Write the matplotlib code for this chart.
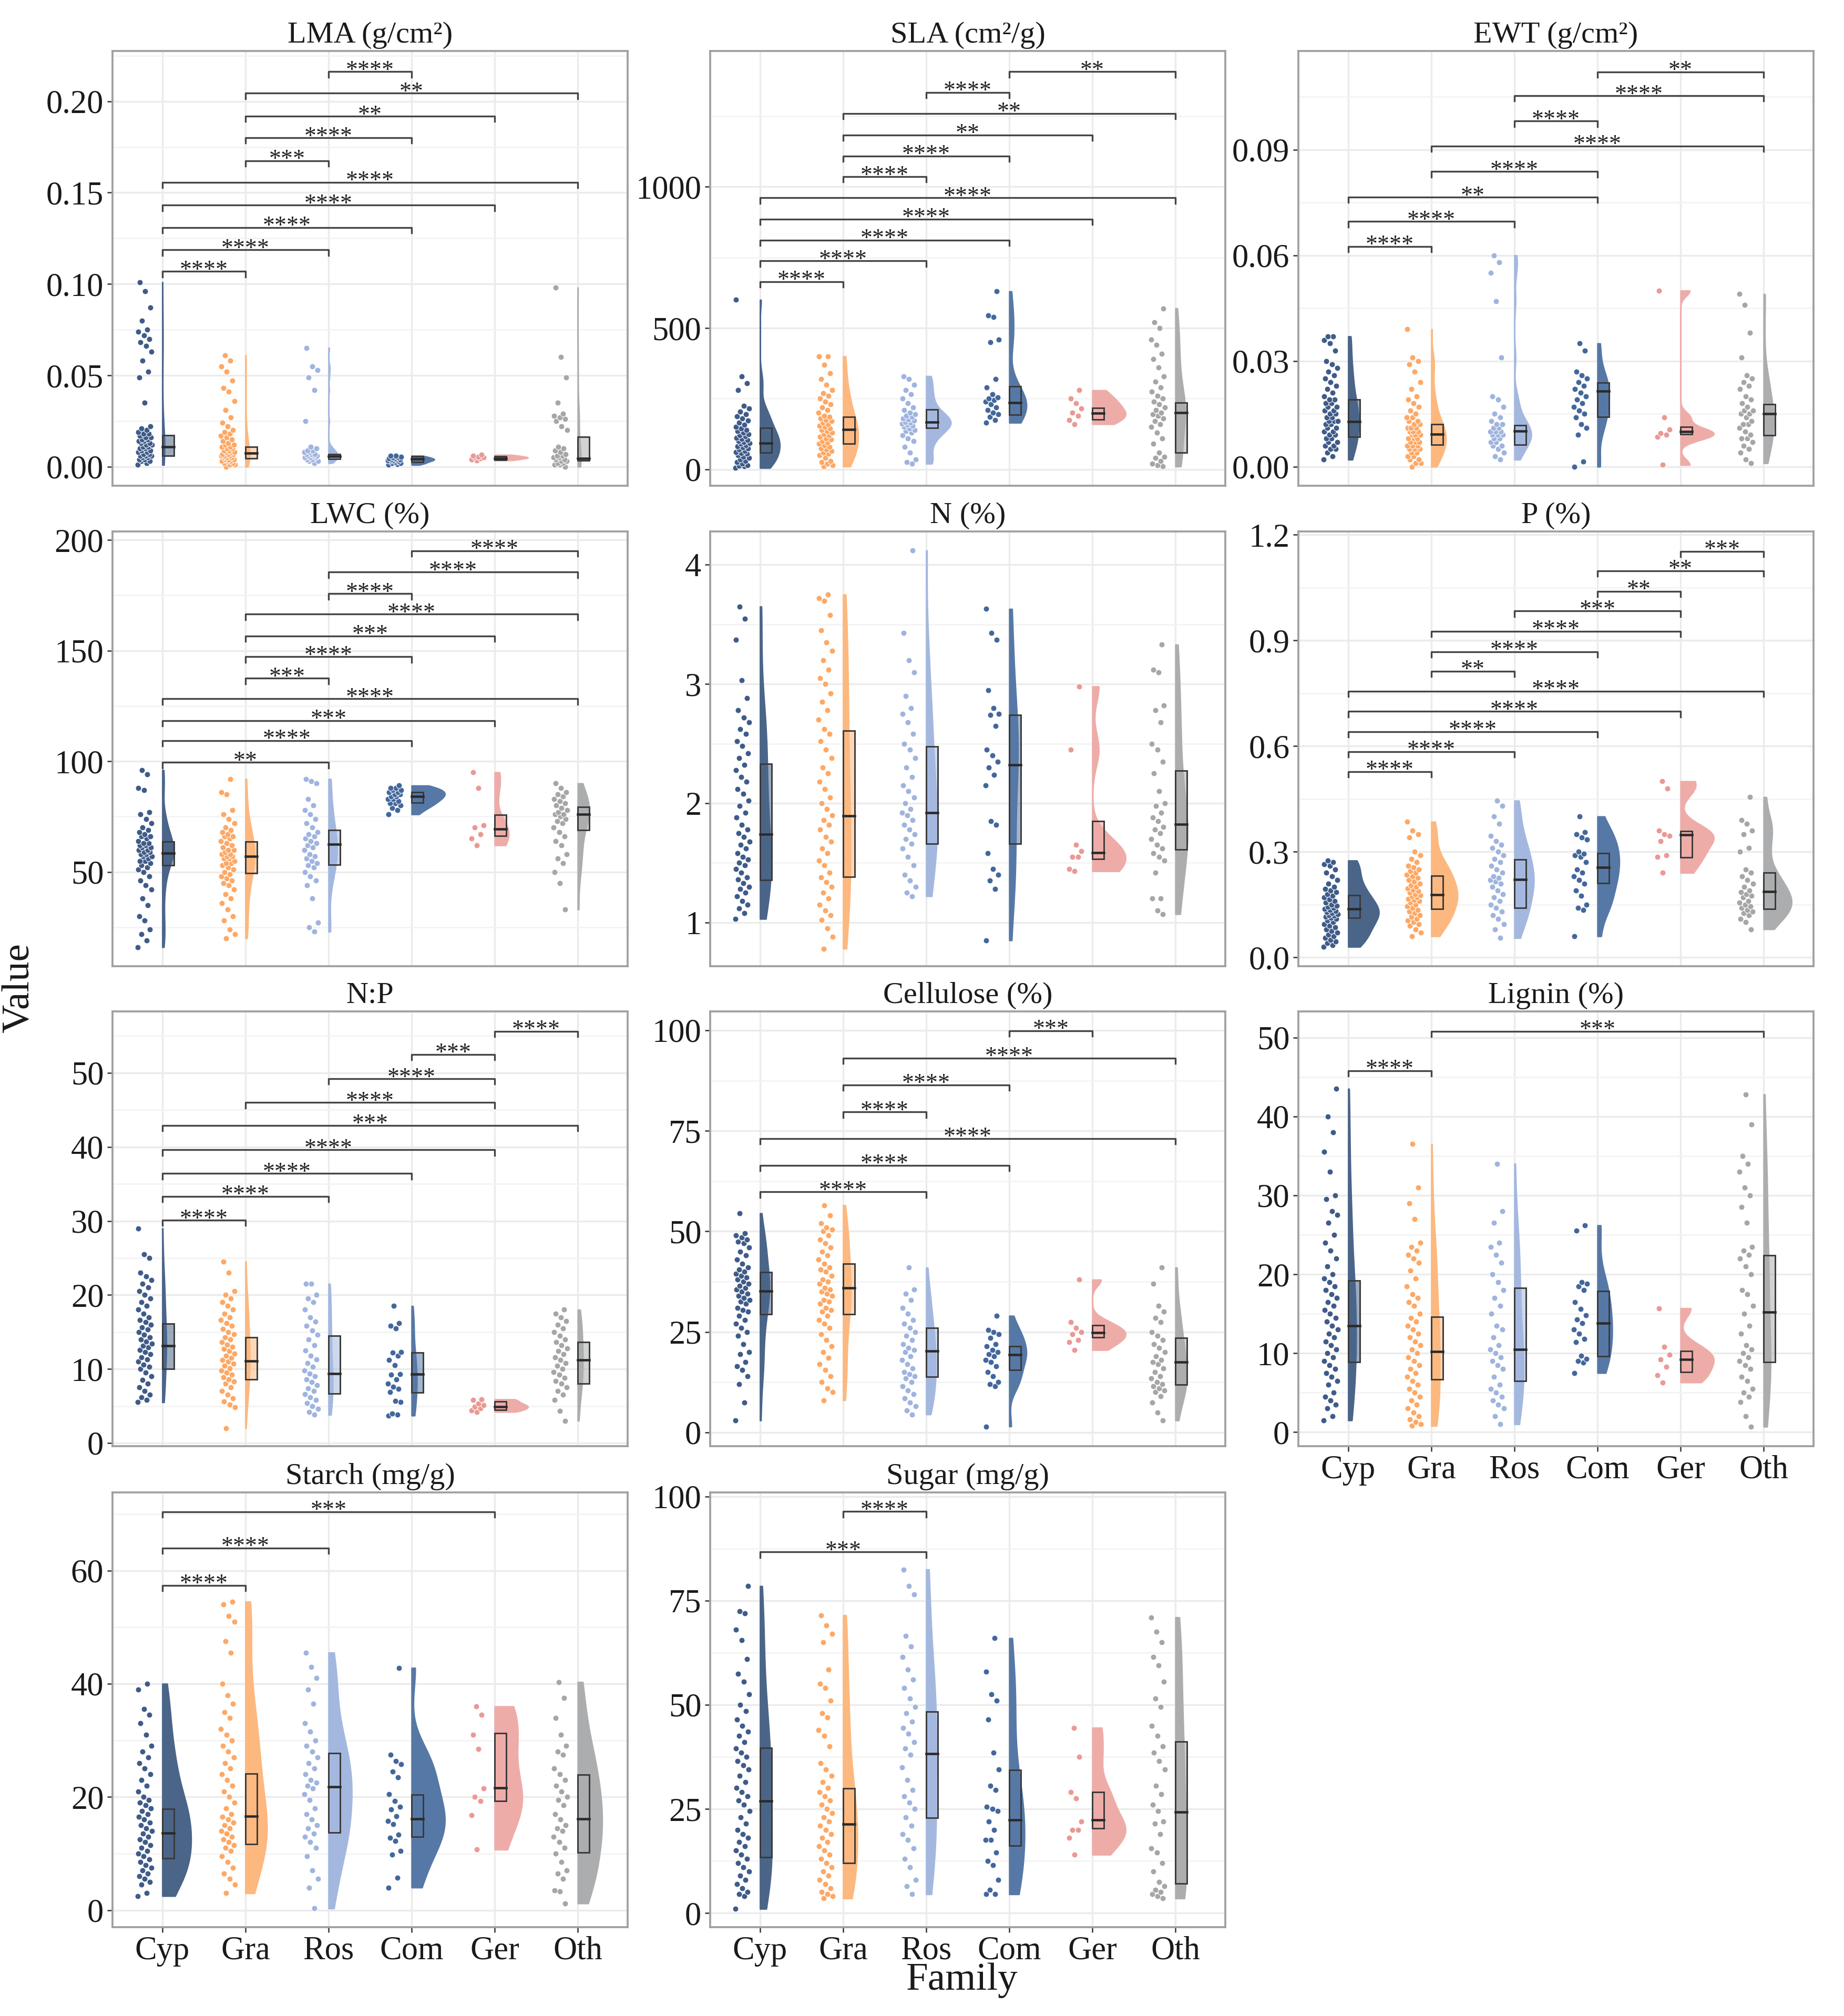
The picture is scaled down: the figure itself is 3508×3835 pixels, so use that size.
import matplotlib.pyplot as plt
import numpy as np
from matplotlib.patches import Rectangle
from matplotlib.ticker import AutoMinorLocator, FormatStrFormatter, FixedLocator

plt.rcParams['font.family'] = ['Liberation Serif', 'DejaVu Serif']

families = ['Cyp', 'Gra', 'Ros', 'Com', 'Ger', 'Oth']
point_colors = ['#3f5b88', '#fda865', '#9fb4de', '#43679c', '#ea9994', '#a6a6a6']
violin_colors = ['#4b6589', '#fdb87f', '#a4b8df', '#5678a6', '#eeaca8', '#acadaf']

# ---- LMA (g/cm2) ----
lma_vals = [
    [0.001, 0.002, 0.003, 0.003, 0.004, 0.004, 0.005, 0.005, 0.006, 0.006, 0.006, 0.007, 0.007, 0.008,
     0.008, 0.009, 0.009, 0.010, 0.010, 0.011, 0.011, 0.012, 0.012, 0.013, 0.013, 0.014, 0.014, 0.015,
     0.015, 0.016, 0.016, 0.017, 0.018, 0.018, 0.019, 0.020, 0.021, 0.022, 0.035, 0.049, 0.052, 0.058,
     0.063, 0.066, 0.068, 0.070, 0.072, 0.074, 0.075, 0.080, 0.087, 0.096, 0.101],
    [0.000, 0.001, 0.001, 0.002, 0.002, 0.003, 0.003, 0.003, 0.004, 0.004, 0.004, 0.005, 0.005, 0.005,
     0.006, 0.006, 0.006, 0.007, 0.007, 0.007, 0.008, 0.008, 0.008, 0.009, 0.009, 0.010, 0.010, 0.011,
     0.011, 0.012, 0.012, 0.013, 0.014, 0.015, 0.016, 0.017, 0.018, 0.019, 0.020, 0.022, 0.024, 0.027,
     0.031, 0.036, 0.041, 0.043, 0.047, 0.052, 0.055, 0.058, 0.061],
    [0.002, 0.003, 0.003, 0.004, 0.004, 0.005, 0.005, 0.005, 0.006, 0.006, 0.006, 0.007, 0.007, 0.007,
     0.008, 0.008, 0.009, 0.009, 0.010, 0.011, 0.025, 0.042, 0.049, 0.053, 0.055, 0.065],
    [0.001, 0.0015, 0.002, 0.002, 0.0025, 0.003, 0.003, 0.0035, 0.0035, 0.004, 0.004, 0.004, 0.0045,
     0.0045, 0.005, 0.005, 0.0055, 0.006, 0.006],
    [0.0035, 0.004, 0.0045, 0.005, 0.005, 0.0055, 0.006, 0.0065],
    [0.000, 0.001, 0.001, 0.002, 0.002, 0.003, 0.003, 0.004, 0.004, 0.005, 0.005, 0.006, 0.006, 0.007,
     0.008, 0.009, 0.010, 0.011, 0.020, 0.022, 0.025, 0.026, 0.027, 0.028, 0.029, 0.035, 0.049, 0.060, 0.098],
]
lma_box = [(0.0061, 0.0108, 0.0172), (0.0047, 0.0075, 0.0108), (0.0042, 0.0058, 0.0068),
           (0.0026, 0.0042, 0.0056), (0.0038, 0.0045, 0.0056), (0.0035, 0.0047, 0.0164)]
lma_sig = [(1, 2, '****', 0.1069), (1, 3, '****', 0.1187), (1, 4, '****', 0.1309), (1, 5, '****', 0.1431),
           (1, 6, '****', 0.1556), (2, 3, '***', 0.1674), (2, 4, '****', 0.1800), (2, 5, '**', 0.1918),
           (2, 6, '**', 0.2044), (3, 4, '****', 0.2162)]

# ---- SLA (cm2/g) ----
sla_vals = [
    [5, 10, 12, 15, 20, 25, 30, 35, 40, 45, 50, 55, 58, 62, 65, 70, 74, 78, 82, 86, 90, 93, 96, 100, 104,
     108, 112, 116, 120, 125, 130, 135, 140, 145, 150, 158, 165, 172, 180, 188, 195, 205, 215, 225, 280,
     305, 330, 600],
    [10, 15, 20, 25, 30, 40, 50, 55, 60, 65, 70, 75, 80, 85, 90, 95, 100, 105, 110, 115, 120, 125, 130, 135,
     140, 145, 150, 155, 160, 165, 170, 175, 180, 185, 190, 200, 210, 220, 230, 240, 250, 260, 270, 280,
     300, 320, 340, 370, 400, 400],
    [20, 25, 35, 60, 80, 100, 110, 120, 130, 135, 140, 145, 150, 155, 158, 162, 165, 168, 172, 176, 180, 185,
     190, 195, 200, 210, 220, 235, 250, 265, 280, 300, 320, 330],
    [165, 175, 185, 195, 200, 210, 220, 230, 240, 245, 250, 255, 265, 290, 320, 450, 460, 540, 545, 630],
    [160, 175, 190, 200, 215, 235, 250, 280],
    [10, 15, 20, 30, 40, 45, 60, 90, 110, 130, 150, 160, 170, 180, 190, 195, 200, 210, 220, 230, 240, 250,
     260, 275, 290, 310, 330, 360, 390, 410, 440, 460, 500, 520, 570],
]
sla_box = [(60, 93, 146), (90, 141, 186), (146, 168, 212), (194, 236, 293), (177, 199, 217), (59, 200, 236)]
sla_sig = [(1, 2, '****', 664), (1, 3, '****', 738), (1, 4, '****', 811), (1, 5, '****', 886),
           (1, 6, '****', 961), (2, 3, '****', 1036), (2, 4, '****', 1109), (2, 5, '**', 1184),
           (2, 6, '**', 1260), (3, 4, '****', 1334), (4, 6, '**', 1408)]

# ---- EWT (g/cm2) ----
ewt_vals = [
    [0.002, 0.003, 0.004, 0.005, 0.005, 0.006, 0.006, 0.007, 0.007, 0.008, 0.008, 0.009, 0.009, 0.010,
     0.010, 0.011, 0.011, 0.012, 0.012, 0.013, 0.013, 0.013, 0.014, 0.014, 0.015, 0.015, 0.016, 0.016,
     0.017, 0.017, 0.018, 0.018, 0.019, 0.019, 0.020, 0.021, 0.022, 0.023, 0.024, 0.025, 0.026, 0.027,
     0.028, 0.029, 0.030, 0.033, 0.035, 0.036, 0.037, 0.037],
    [0.000, 0.001, 0.001, 0.002, 0.002, 0.003, 0.003, 0.004, 0.004, 0.005, 0.005, 0.005, 0.006, 0.006,
     0.006, 0.007, 0.007, 0.007, 0.008, 0.008, 0.008, 0.009, 0.009, 0.009, 0.010, 0.010, 0.010, 0.011,
     0.011, 0.011, 0.012, 0.012, 0.013, 0.013, 0.014, 0.014, 0.015, 0.016, 0.017, 0.018, 0.019, 0.020,
     0.022, 0.024, 0.027, 0.029, 0.030, 0.031, 0.039],
    [0.002, 0.003, 0.004, 0.005, 0.006, 0.006, 0.007, 0.007, 0.008, 0.008, 0.009, 0.009, 0.009, 0.010,
     0.010, 0.010, 0.011, 0.011, 0.012, 0.012, 0.013, 0.014, 0.015, 0.017, 0.019, 0.020, 0.031, 0.047,
     0.055, 0.058, 0.060],
    [0.000, 0.0015, 0.009, 0.011, 0.012, 0.014, 0.015, 0.016, 0.017, 0.018, 0.019, 0.020, 0.021, 0.022,
     0.023, 0.024, 0.025, 0.026, 0.027, 0.033, 0.035],
    [0.0005, 0.0085, 0.009, 0.0095, 0.0105, 0.014, 0.050],
    [0.001, 0.002, 0.004, 0.005, 0.006, 0.007, 0.008, 0.008, 0.009, 0.010, 0.011, 0.012, 0.012, 0.013,
     0.014, 0.015, 0.015, 0.016, 0.016, 0.017, 0.018, 0.019, 0.020, 0.022, 0.023, 0.024, 0.025, 0.026,
     0.031, 0.038, 0.046, 0.049],
]
ewt_box = [(0.0085, 0.0128, 0.0191), (0.0062, 0.0092, 0.0121), (0.0062, 0.0101, 0.0118),
           (0.0142, 0.0214, 0.0239), (0.0092, 0.0099, 0.0113), (0.0089, 0.0151, 0.0178)]
ewt_sig = [(1, 2, '****', 0.0625), (1, 3, '****', 0.0696), (1, 4, '**', 0.0765), (2, 4, '****', 0.0838),
           (2, 6, '****', 0.0910), (3, 4, '****', 0.0981), (3, 6, '****', 0.1053), (4, 6, '**', 0.1121)]

# ---- LWC (%) ----
lwc_vals = [
    [16, 19, 22, 24, 28, 30, 35, 38, 42, 44, 46, 48, 50, 51, 52, 53, 54, 55, 55, 56, 57, 57, 58, 58, 59, 59,
     60, 60, 61, 61, 62, 62, 63, 63, 64, 65, 66, 66, 67, 68, 69, 70, 72, 74, 76, 77, 87, 88, 94, 96],
    [20, 22, 24, 28, 30, 33, 36, 38, 40, 42, 44, 45, 46, 47, 48, 49, 50, 51, 52, 53, 54, 54, 55, 56, 56, 57,
     57, 58, 58, 59, 60, 60, 61, 62, 63, 64, 65, 66, 66, 67, 68, 69, 70, 72, 74, 76, 78, 85, 86, 92],
    [23, 25, 27, 38, 44, 46, 48, 50, 52, 53, 54, 55, 56, 57, 58, 60, 61, 62, 63, 64, 65, 66, 67, 68, 70, 72,
     74, 76, 78, 80, 83, 90, 91, 92],
    [76, 78, 79, 80, 81, 81, 82, 83, 83, 84, 84, 85, 85, 86, 86, 87, 87, 88, 88, 89],
    [62, 65, 67, 70, 71, 88, 95],
    [33, 45, 50, 54, 56, 58, 62, 64, 66, 68, 70, 72, 73, 74, 75, 76, 76, 77, 78, 79, 80, 81, 82, 83, 84, 85,
     86, 88, 90],
]
lwc_box = [(53.1, 58.5, 63.6), (49.5, 57.0, 63.8), (53.3, 62.6, 68.8), (81.2, 84.0, 86.1),
           (66.3, 69.4, 75.8), (69.0, 76.1, 79.3)]
lwc_sig = [(1, 3, '**', 99.5), (1, 4, '****', 109.3), (1, 5, '***', 118.4), (1, 6, '****', 128.2),
           (2, 3, '***', 137.5), (2, 4, '****', 147.2), (2, 5, '***', 156.6), (2, 6, '****', 166.4),
           (3, 4, '****', 175.7), (3, 6, '****', 185.4), (4, 6, '****', 195.0)]

# ---- N (%) ----
n_vals = [
    [1.03, 1.08, 1.12, 1.15, 1.18, 1.22, 1.25, 1.28, 1.30, 1.33, 1.36, 1.38, 1.42, 1.45, 1.48, 1.50, 1.53,
     1.55, 1.58, 1.62, 1.65, 1.68, 1.72, 1.75, 1.78, 1.82, 1.88, 1.92, 1.98, 2.02, 2.08, 2.12, 2.18, 2.22,
     2.28, 2.32, 2.38, 2.42, 2.48, 2.52, 2.58, 2.62, 2.68, 2.72, 2.78, 2.88, 3.03, 3.37, 3.55, 3.65],
    [0.78, 0.88, 0.95, 1.02, 1.06, 1.10, 1.15, 1.20, 1.25, 1.30, 1.34, 1.38, 1.42, 1.48, 1.52, 1.58, 1.62,
     1.68, 1.72, 1.78, 1.82, 1.86, 1.90, 1.95, 2.00, 2.05, 2.12, 2.18, 2.25, 2.30, 2.38, 2.45, 2.52, 2.58,
     2.62, 2.70, 2.78, 2.85, 2.92, 3.00, 3.05, 3.12, 3.20, 3.28, 3.35, 3.45, 3.58, 3.70, 3.72, 3.75],
    [1.22, 1.25, 1.30, 1.35, 1.40, 1.48, 1.55, 1.62, 1.66, 1.70, 1.74, 1.78, 1.82, 1.86, 1.90, 1.92, 1.95,
     2.00, 2.05, 2.10, 2.15, 2.22, 2.30, 2.38, 2.45, 2.50, 2.58, 2.68, 2.75, 2.80, 2.90, 3.10, 3.20, 3.43, 4.12],
    [0.85, 1.28, 1.35, 1.40, 1.45, 1.58, 1.82, 1.85, 2.15, 2.24, 2.30, 2.35, 2.40, 2.45, 2.65, 2.74, 2.75,
     2.80, 2.95, 3.37, 3.43, 3.63],
    [1.43, 1.45, 1.55, 1.55, 1.60, 1.65, 2.45, 2.98],
    [1.07, 1.10, 1.20, 1.20, 1.42, 1.52, 1.55, 1.58, 1.62, 1.65, 1.70, 1.75, 1.78, 1.80, 1.85, 1.88, 1.92,
     1.98, 2.00, 2.10, 2.25, 2.35, 2.45, 2.50, 2.68, 2.78, 2.82, 3.10, 3.12, 3.33],
]
n_box = [(1.357, 1.742, 2.33), (1.382, 1.896, 2.61), (1.661, 1.919, 2.476), (1.661, 2.322, 2.742),
         (1.534, 1.585, 1.848), (1.61, 1.823, 2.273)]
n_sig = []

# ---- P (%) ----
p_vals = [
    [0.030, 0.035, 0.040, 0.045, 0.050, 0.055, 0.060, 0.065, 0.070, 0.075, 0.080, 0.085, 0.090, 0.095,
     0.100, 0.105, 0.110, 0.112, 0.115, 0.118, 0.120, 0.123, 0.126, 0.129, 0.132, 0.135, 0.138, 0.141,
     0.144, 0.147, 0.150, 0.155, 0.160, 0.165, 0.170, 0.175, 0.180, 0.185, 0.190, 0.195, 0.200, 0.210,
     0.220, 0.230, 0.240, 0.250, 0.260, 0.265, 0.270, 0.275],
    [0.060, 0.070, 0.080, 0.090, 0.095, 0.100, 0.105, 0.110, 0.115, 0.120, 0.125, 0.130, 0.135, 0.140,
     0.145, 0.150, 0.155, 0.160, 0.163, 0.166, 0.170, 0.173, 0.176, 0.180, 0.184, 0.188, 0.192, 0.196,
     0.200, 0.205, 0.210, 0.215, 0.220, 0.225, 0.230, 0.235, 0.240, 0.245, 0.250, 0.255, 0.260, 0.270,
     0.280, 0.290, 0.300, 0.340, 0.350, 0.360, 0.385],
    [0.055, 0.080, 0.095, 0.110, 0.120, 0.130, 0.140, 0.150, 0.160, 0.170, 0.180, 0.190, 0.200, 0.210,
     0.215, 0.220, 0.225, 0.230, 0.240, 0.250, 0.260, 0.270, 0.280, 0.290, 0.300, 0.310, 0.320, 0.330,
     0.345, 0.380, 0.400, 0.430, 0.445],
    [0.060, 0.135, 0.140, 0.150, 0.175, 0.190, 0.210, 0.220, 0.230, 0.240, 0.250, 0.270, 0.285, 0.290,
     0.295, 0.300, 0.335, 0.340, 0.350, 0.355, 0.400],
    [0.240, 0.285, 0.290, 0.330, 0.345, 0.350, 0.360, 0.480, 0.500],
    [0.080, 0.100, 0.110, 0.120, 0.125, 0.130, 0.135, 0.140, 0.145, 0.150, 0.155, 0.160, 0.170, 0.175,
     0.180, 0.185, 0.190, 0.200, 0.210, 0.220, 0.230, 0.240, 0.250, 0.300, 0.310, 0.350, 0.360, 0.380,
     0.390, 0.455],
]
p_box = [(0.112, 0.137, 0.176), (0.138, 0.178, 0.231), (0.141, 0.221, 0.278), (0.211, 0.255, 0.296),
         (0.284, 0.348, 0.358), (0.138, 0.187, 0.240)]
p_sig = [(1, 2, '****', 0.527), (1, 3, '****', 0.584), (1, 4, '****', 0.641), (1, 5, '****', 0.698),
         (1, 6, '****', 0.756), (2, 3, '**', 0.812), (2, 4, '****', 0.868), (2, 5, '****', 0.926),
         (3, 5, '***', 0.983), (4, 5, '**', 1.039), (4, 6, '**', 1.097), (5, 6, '***', 1.153)]

# ---- N:P ----
np_vals = [
    [5.5, 5.8, 6.2, 6.5, 7.0, 7.5, 8.0, 8.5, 9.0, 9.5, 10.0, 10.3, 10.6, 11.0, 11.3, 11.6, 12.0, 12.3, 12.6,
     12.9, 13.1, 13.4, 13.7, 14.0, 14.3, 14.6, 15.0, 15.3, 15.6, 16.0, 16.3, 16.6, 17.0, 17.5, 18.0, 18.5,
     19.0, 19.5, 20.0, 20.5, 21.0, 21.5, 22.0, 22.5, 23.0, 25.0, 25.5, 29.0],
    [2.0, 4.8, 5.2, 5.6, 6.0, 6.5, 7.0, 7.5, 8.0, 8.3, 8.6, 8.9, 9.2, 9.5, 9.8, 10.1, 10.4, 10.7, 11.0, 11.2,
     11.5, 11.8, 12.1, 12.4, 12.7, 13.0, 13.3, 13.6, 14.0, 14.3, 14.7, 15.0, 15.4, 15.8, 16.2, 16.6, 17.0,
     17.5, 18.0, 18.5, 19.0, 19.5, 20.0, 20.5, 23.0, 24.5],
    [3.8, 4.2, 4.6, 5.0, 5.4, 5.8, 6.2, 6.6, 7.0, 7.4, 7.8, 8.2, 8.6, 9.0, 9.4, 9.8, 10.3, 10.8, 11.3, 11.8,
     12.5, 13.2, 14.0, 14.6, 15.2, 15.8, 16.4, 17.0, 18.0, 19.0, 19.5, 20.0, 21.5, 21.5],
    [3.7, 3.8, 4.0, 5.5, 5.7, 6.9, 7.3, 7.6, 8.0, 8.6, 9.2, 9.3, 10.5, 11.2, 11.8, 12.2, 12.3, 15.5, 15.8,
     16.2, 18.5],
    [4.2, 4.4, 4.7, 4.9, 5.1, 5.3, 5.8, 5.9],
    [3.0, 4.3, 5.8, 6.5, 7.0, 7.5, 8.0, 8.4, 8.8, 9.2, 9.6, 10.0, 10.4, 10.8, 11.2, 11.6, 12.0, 12.4, 12.8,
     13.2, 13.6, 14.0, 14.5, 15.0, 15.5, 16.0, 16.5, 17.0, 17.5, 18.0],
]
np_box = [(10.0, 13.1, 16.1), (8.6, 11.1, 14.3), (6.7, 9.4, 14.5), (6.8, 9.3, 12.2), (4.5, 4.9, 5.6),
          (8.0, 11.2, 13.6)]
np_sig = [(1, 2, '****', 30.1), (1, 3, '****', 33.3), (1, 4, '****', 36.4), (1, 5, '****', 39.6),
          (1, 6, '***', 42.9), (2, 5, '****', 46.0), (3, 5, '****', 49.2), (4, 5, '***', 52.5),
          (5, 6, '****', 55.6)]

# ---- Cellulose (%) ----
cel_vals = [
    [3.0, 7.5, 12.0, 14.0, 15.5, 16.5, 17.5, 19.5, 20.0, 22.0, 24.0, 25.0, 26.0, 27.0, 28.0, 29.0, 30.0,
     30.5, 31.0, 32.0, 32.5, 33.0, 33.5, 34.0, 34.5, 35.0, 35.5, 36.0, 36.5, 37.0, 37.5, 38.0, 38.5, 39.0,
     39.5, 40.0, 40.5, 41.0, 42.0, 43.0, 44.0, 45.0, 46.0, 47.0, 47.5, 48.0, 48.5, 49.0, 49.5, 54.5],
    [8.0, 10.0, 11.0, 12.5, 14.0, 15.5, 17.0, 18.5, 20.0, 21.5, 23.0, 24.5, 26.0, 27.0, 28.0, 29.0, 30.0,
     30.5, 31.0, 32.0, 32.5, 33.0, 34.0, 34.5, 35.0, 35.5, 36.0, 37.0, 37.5, 38.0, 39.0, 40.0, 40.5, 41.0,
     42.0, 43.0, 44.0, 45.0, 46.0, 47.0, 48.0, 49.0, 50.0, 50.5, 51.0, 52.0, 54.0, 56.5],
    [4.5, 5.5, 6.5, 7.5, 8.5, 9.5, 10.5, 11.5, 12.5, 13.5, 14.0, 14.5, 15.0, 16.0, 17.0, 18.0, 19.0, 20.0,
     20.5, 21.0, 22.0, 23.0, 24.0, 25.0, 26.0, 27.0, 28.0, 29.5, 31.0, 33.0, 34.5, 35.5, 41.0],
    [1.5, 11.5, 12.0, 12.5, 14.0, 15.0, 16.5, 17.5, 18.0, 19.0, 19.5, 20.0, 20.5, 21.5, 22.0, 23.5, 24.5,
     25.0, 25.5, 29.0],
    [20.5, 22.5, 23.0, 24.5, 25.0, 26.0, 27.5, 38.0],
    [3.0, 5.0, 7.5, 9.0, 10.0, 10.5, 11.0, 11.5, 12.0, 12.5, 13.5, 14.0, 15.0, 16.0, 17.0, 17.5, 18.0, 19.0,
     20.0, 21.0, 22.0, 23.0, 24.0, 25.0, 27.5, 28.5, 30.0, 31.5, 37.0, 41.0],
]
cel_box = [(29.4, 35.1, 39.9), (29.4, 35.9, 42.0), (13.9, 20.3, 26.0), (15.6, 19.3, 21.5), (23.7, 24.8, 26.7),
           (11.9, 17.5, 23.5)]
cel_sig = [(1, 3, '****', 59.8), (1, 4, '****', 66.4), (1, 6, '****', 73.1), (2, 3, '****', 79.7),
           (2, 4, '****', 86.4), (2, 6, '****', 93.1), (4, 5, '***', 99.9)]

# ---- Lignin (%) ----
lig_vals = [
    [1.5, 2.0, 3.0, 3.5, 4.0, 4.5, 5.0, 6.0, 6.5, 7.0, 7.5, 8.0, 8.5, 9.0, 9.5, 10.0, 10.5, 11.0, 11.5, 12.0,
     12.5, 13.0, 13.5, 14.0, 14.5, 15.0, 15.5, 16.0, 16.5, 17.0, 17.5, 18.0, 18.5, 19.0, 19.5, 20.0, 21.0,
     22.0, 23.0, 24.0, 25.0, 26.5, 27.5, 28.0, 29.5, 30.0, 33.0, 35.5, 38.0, 40.0, 43.5],
    [0.8, 1.0, 1.3, 1.6, 2.0, 2.5, 3.0, 3.5, 4.0, 4.5, 5.0, 5.5, 6.0, 6.5, 7.0, 7.5, 8.0, 8.5, 9.0, 9.5,
     10.0, 10.5, 11.0, 11.5, 12.0, 12.5, 13.0, 13.5, 14.0, 14.5, 15.0, 16.0, 16.5, 17.0, 17.5, 18.5, 19.5,
     20.5, 21.5, 22.0, 22.5, 23.0, 23.5, 24.0, 27.0, 29.0, 31.0, 36.5],
    [1.0, 2.0, 3.0, 3.5, 4.0, 4.5, 5.0, 5.5, 6.0, 7.0, 8.0, 8.5, 9.0, 9.5, 10.0, 10.5, 11.0, 12.0, 13.0,
     13.5, 15.0, 16.0, 17.0, 18.0, 19.0, 20.0, 21.5, 22.5, 23.5, 24.0, 26.5, 28.0, 34.0],
    [7.5, 8.8, 9.0, 9.3, 9.7, 11.4, 11.8, 12.5, 13.0, 13.8, 14.3, 14.8, 15.6, 16.5, 18.0, 18.5, 18.8, 19.0,
     25.5, 26.2],
    [6.3, 7.2, 8.3, 9.2, 9.8, 10.8, 15.7],
    [0.7, 2.0, 3.8, 4.5, 5.0, 5.5, 6.5, 7.0, 8.0, 8.5, 9.0, 9.5, 10.0, 10.5, 11.0, 12.5, 13.5, 15.0, 16.0,
     17.5, 18.0, 20.0, 21.0, 22.0, 22.5, 23.0, 23.5, 26.5, 28.5, 30.0, 31.0, 33.0, 34.0, 35.0, 39.0, 42.8],
]
lig_box = [(8.9, 13.5, 19.2), (6.7, 10.2, 14.6), (6.5, 10.5, 18.3), (9.6, 13.8, 17.9), (7.6, 9.2, 10.3),
           (8.9, 15.2, 22.4)]
lig_sig = [(1, 2, '****', 45.8), (2, 6, '***', 50.8)]

# ---- Starch (mg/g) ----
sta_vals = [
    [2.5, 3.0, 4.5, 5.0, 5.5, 6.0, 6.5, 7.0, 7.5, 8.0, 8.5, 9.0, 9.5, 10.0, 10.5, 11.0, 11.5, 12.0, 12.5,
     13.0, 13.5, 14.0, 14.5, 15.0, 15.5, 16.0, 16.5, 17.0, 17.5, 18.0, 18.5, 19.0, 19.5, 20.0, 21.0, 22.0,
     23.0, 24.0, 25.0, 26.0, 27.0, 28.0, 29.0, 31.0, 33.0, 34.5, 35.5, 39.0, 40.0],
    [3.0, 4.5, 5.5, 6.5, 7.5, 8.5, 9.5, 10.5, 11.0, 11.5, 12.0, 12.5, 13.0, 13.5, 14.0, 14.5, 15.0, 15.5,
     16.0, 16.5, 17.0, 18.0, 19.0, 20.0, 21.0, 22.0, 23.0, 24.0, 25.0, 26.0, 27.0, 28.0, 29.0, 30.0, 31.0,
     32.0, 34.0, 35.0, 36.5, 38.0, 40.0, 45.5, 47.5, 51.0, 52.0, 54.0, 54.5],
    [0.3, 4.0, 5.5, 7.0, 9.5, 11.0, 12.0, 13.0, 13.5, 14.5, 15.0, 16.0, 17.0, 18.0, 19.5, 20.5, 21.5, 22.0,
     22.5, 23.0, 24.0, 25.0, 26.0, 27.0, 28.0, 29.0, 30.0, 31.5, 33.0, 36.5, 39.0, 41.0, 43.0, 45.5],
    [4.0, 5.7, 9.8, 10.5, 12.2, 12.8, 13.3, 15.2, 15.8, 16.6, 17.8, 18.3, 19.3, 20.5, 23.5, 24.5, 25.8,
     26.3, 27.5, 42.8],
    [10.7, 16.8, 19.3, 20.0, 21.5, 28.5, 31.0, 34.5, 36.0],
    [1.2, 3.3, 3.5, 5.5, 6.5, 7.0, 8.5, 10.0, 11.0, 12.0, 13.0, 14.0, 14.5, 15.0, 16.0, 17.0, 18.5, 19.5,
     20.0, 21.0, 22.0, 23.0, 24.0, 25.0, 27.5, 28.0, 29.0, 31.0, 34.0, 37.5, 40.3],
]
sta_box = [(9.2, 13.6, 17.9), (11.7, 16.6, 24.1), (13.7, 21.8, 27.7), (13.0, 16.1, 20.4), (19.3, 21.6, 31.3),
           (10.2, 16.1, 23.9)]
sta_sig = [(1, 2, '****', 57.4), (1, 3, '****', 64.0), (1, 5, '***', 70.4)]

# ---- Sugar (mg/g) ----
sug_vals = [
    [1.0, 4.0, 4.5, 5.0, 6.0, 7.0, 8.0, 9.0, 10.0, 11.0, 12.0, 13.0, 14.0, 15.0, 16.0, 17.0, 18.0, 19.0,
     20.0, 21.5, 23.0, 24.5, 26.0, 27.0, 28.0, 29.0, 30.0, 31.5, 33.0, 34.5, 35.5, 36.5, 37.5, 38.5, 39.5,
     41.0, 42.5, 43.5, 45.0, 46.5, 48.5, 50.0, 52.5, 55.5, 57.5, 61.0, 65.5, 68.0, 72.0, 72.5, 78.5],
    [3.5, 4.0, 4.5, 5.0, 6.0, 7.0, 8.0, 9.0, 10.0, 11.0, 12.0, 13.0, 14.0, 15.0, 16.0, 17.0, 18.0, 19.0,
     20.0, 21.0, 22.0, 23.0, 24.0, 25.0, 26.0, 27.0, 28.0, 29.0, 30.0, 31.5, 33.0, 34.5, 36.0, 40.0, 42.5,
     44.0, 47.0, 48.0, 51.0, 54.0, 55.0, 58.5, 65.0, 67.0, 69.0, 71.5],
    [4.5, 6.5, 8.0, 11.0, 13.0, 15.5, 17.5, 19.0, 21.0, 23.0, 25.0, 26.5, 28.0, 29.5, 32.0, 35.0, 38.0, 39.5,
     41.0, 43.0, 44.5, 46.0, 48.0, 49.5, 51.5, 54.0, 56.0, 58.5, 61.5, 64.0, 66.5, 76.5, 78.5, 82.5],
    [4.5, 4.5, 5.5, 8.0, 11.5, 12.5, 14.5, 17.5, 17.5, 20.0, 22.0, 24.5, 25.0, 25.5, 29.5, 30.5, 34.5, 38.5,
     46.5, 51.0, 52.5, 58.0, 66.0],
    [14.0, 18.0, 20.0, 20.0, 22.0, 27.5, 29.0, 37.5, 44.5],
    [3.5, 4.0, 4.5, 5.0, 5.5, 6.5, 7.5, 10.0, 12.0, 14.5, 15.5, 19.0, 21.5, 22.0, 24.5, 26.0, 28.5, 30.5,
     34.5, 36.5, 38.5, 40.0, 42.5, 45.0, 49.5, 51.5, 55.5, 59.5, 61.5, 65.0, 67.5, 71.0],
]
sug_box = [(13.4, 26.9, 39.6), (12.0, 21.3, 29.9), (22.8, 38.2, 48.4), (16.2, 22.3, 34.4), (20.3, 22.3, 29.1),
           (7.1, 24.3, 41.2)]
sug_sig = [(1, 3, '***', 86.7), (2, 3, '****', 96.4)]

# panel settings: title, data, box stats, brackets, y limits, y ticks, tick format, grid cell
panels = [
    ('LMA (g/cm²)', lma_vals, lma_box, lma_sig, (-0.0104, 0.2275), [0, 0.05, 0.10, 0.15, 0.20], '%.2f', (0, 0)),
    ('SLA (cm²/g)', sla_vals, sla_box, sla_sig, (-58, 1481), [0, 500, 1000], '%d', (0, 1)),
    ('EWT (g/cm²)', ewt_vals, ewt_box, ewt_sig, (-0.0054, 0.118), [0, 0.03, 0.06, 0.09], '%.2f', (0, 2)),
    ('LWC (%)', lwc_vals, lwc_box, lwc_sig, (7.4, 203.8), [50, 100, 150, 200], '%d', (1, 0)),
    ('N (%)', n_vals, n_box, n_sig, (0.633, 4.28), [1, 2, 3, 4], '%d', (1, 1)),
    ('P (%)', p_vals, p_box, p_sig, (-0.025, 1.209), [0, 0.3, 0.6, 0.9, 1.2], '%.1f', (1, 2)),
    ('N:P', np_vals, np_box, np_sig, (-0.43, 58.3), [0, 10, 20, 30, 40, 50], '%d', (2, 0)),
    ('Cellulose (%)', cel_vals, cel_box, cel_sig, (-3.4, 104.7), [0, 25, 50, 75, 100], '%d', (2, 1)),
    ('Lignin (%)', lig_vals, lig_box, lig_sig, (-1.77, 53.3), [0, 10, 20, 30, 40, 50], '%d', (2, 2)),
    ('Starch (mg/g)', sta_vals, sta_box, sta_sig, (-3.0, 73.8), [0, 20, 40, 60], '%d', (3, 0)),
    ('Sugar (mg/g)', sug_vals, sug_box, sug_sig, (-3.4, 101), [0, 25, 50, 75, 100], '%d', (3, 1)),
]

W, H = 3508, 3835
fig = plt.figure(figsize=(W / 300, H / 300), dpi=300)
col_left = [214, 1351, 2470]
row_top = [97, 1011, 1924, 2839]
ax_w, ax_h = 980, 827


def kde(v, grid):
    v = np.asarray(v, float)
    n = len(v)
    sd = v.std(ddof=1)
    iqr = np.subtract(*np.percentile(v, [75, 25]))
    bw = 0.9 * min(sd, iqr / 1.34) * n ** -0.2
    if bw <= 0:
        bw = 0.9 * sd * n ** -0.2
    z = (grid[:, None] - v[None, :]) / bw
    return np.exp(-0.5 * z ** 2).sum(axis=1) / (n * bw * np.sqrt(2 * np.pi))


for title, vals, box, sig, ylim, yticks, fmt, (r, c) in panels:
    ax = fig.add_axes([col_left[c] / W, 1 - (row_top[r] + ax_h) / H, ax_w / W, ax_h / H])
    ax.set_xlim(0.4, 6.6)
    ax.set_ylim(*ylim)
    yr = ylim[1] - ylim[0]

    # half violins, area scaled
    dens = []
    for v in vals:
        grid = np.linspace(min(v), max(v), 256)
        dens.append((grid, kde(v, grid)))
    dmax = max(d.max() for _, d in dens)
    for i, (grid, d) in enumerate(dens):
        x0 = i + 1
        ax.fill_betweenx(grid, x0, x0 + 0.4 * d / dmax, color=violin_colors[i],
                         edgecolor=violin_colors[i], lw=0.6, zorder=2)

    # boxes (no whiskers)
    for i, (q1, med, q3) in enumerate(box):
        x0 = i + 1
        ax.add_patch(Rectangle((x0, q1), 0.14, q3 - q1, facecolor=violin_colors[i], alpha=0.55,
                               edgecolor='none', zorder=3))
        ax.add_patch(Rectangle((x0, q1), 0.14, q3 - q1, facecolor='none', edgecolor='#3a3a3a',
                               lw=0.7, zorder=4))
        ax.plot([x0, x0 + 0.14], [med, med], color='#2a2a2a', lw=1.1, zorder=4)

    # jittered points
    for i, v in enumerate(vals):
        k = np.arange(len(v))
        jit = 2 * ((k * 0.6180339887 + 0.37 * i) % 1) - 1
        ax.scatter(i + 1 - 0.21 + 0.085 * jit, v, s=7, color=point_colors[i], edgecolor='white',
                   linewidth=0.25, zorder=5)

    # significance brackets
    tip = 0.0125 * yr
    for g1, g2, lab, y in sig:
        ax.plot([g1, g1, g2, g2], [y - tip, y, y, y - tip], color='#454545', lw=0.8, zorder=6)
        ax.annotate(lab, xy=((g1 + g2) / 2, y), xytext=(0, -2.5), textcoords='offset points',
                    ha='center', va='baseline', fontsize=11, color='#222222')

    ax.set_title(title, fontsize=14, pad=4, color='#1a1a1a')
    ax.yaxis.set_major_locator(FixedLocator(yticks))
    ax.yaxis.set_major_formatter(FormatStrFormatter(fmt))
    ax.yaxis.set_minor_locator(AutoMinorLocator(2))
    ax.set_xticks(range(1, 7))
    ax.grid(True, which='major', color='#ebebeb', lw=0.8, zorder=0)
    ax.grid(True, which='minor', axis='y', color='#f3f3f3', lw=0.6, zorder=0)
    ax.set_axisbelow(True)
    for s in ax.spines.values():
        s.set_color('#a0a0a0')
        s.set_linewidth(0.9)
    ax.tick_params(axis='y', which='major', length=2.5, width=0.6, color='#333333', labelsize=15,
                   pad=1.5, labelcolor='#1a1a1a')
    ax.tick_params(axis='y', which='minor', length=0)
    if r == 3 or (r, c) == (2, 2):
        ax.set_xticklabels(families)
        ax.tick_params(axis='x', length=2.5, width=0.6, color='#333333', labelsize=15, pad=1.5,
                       labelcolor='#1a1a1a')
    else:
        ax.tick_params(axis='x', length=0, labelbottom=False)

fig.text(0.5217, 0.0177, 'Family', ha='center', va='center', fontsize=18, color='#1a1a1a')
fig.text(0.0105, 0.51, 'Value', ha='center', va='center', rotation=90, fontsize=18, color='#1a1a1a')

fig.savefig('out.png', dpi=300)
